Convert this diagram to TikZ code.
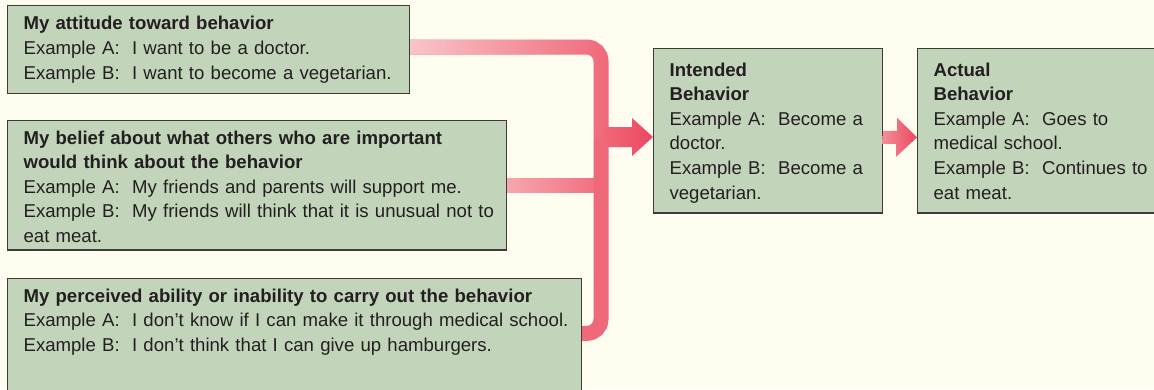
\documentclass[tikz,border=0pt]{standalone}
\usepackage{fontspec}
\setmainfont{Liberation Sans}
\usetikzlibrary{fadings}
\definecolor{paper}{HTML}{FFFDF0}
\definecolor{cardfill}{HTML}{C2D5BA}
\definecolor{cardline}{HTML}{3C3C38}
\definecolor{inktext}{HTML}{231F20}
\definecolor{bandlight}{HTML}{F9C8CD}
\definecolor{bandmid}{HTML}{F0697A}
\definecolor{bandred}{HTML}{EC4760}
\tikzfading[name=armfade,left color=transparent!0,right color=transparent!100]
\begin{document}
\begin{tikzpicture}[x=1pt,y=-1pt,font=\fontsize{18.6}{24.6}\selectfont,
  card/.style={draw=cardline,line width=1.2pt,fill=cardfill,anchor=north west,align=left,inner xsep=16pt,inner ysep=10pt,text=inktext,execute at begin node={\rightskip=0pt plus 1fil minus 60pt\hyphenpenalty=10000}},
  band/.style={line width=15pt,rounded corners=14pt}]
\useasboundingbox (0,0) rectangle (1154,389);
\clip (0,0) rectangle (1154,389);
\fill[paper] (0,0) rectangle (1154,389);
% the three sources
\node[card,text width=370pt,minimum height=88pt] (att) at (7,5) {\textbf{My attitude toward behavior}\\Example A:\ \ I want to be a doctor.\\Example B:\ \ I want to become a vegetarian.};
\node[card,text width=467pt,text depth=96pt] (bel) at (7,120) {\textbf{My belief about what others who are important}\\\textbf{would think about the behavior}\\Example A:\ \ My friends and parents will support me.\\Example B:\ \ My friends will think that it is unusual not to\\eat meat.};
\node[card,text width=542pt,text depth=110pt] (abl) at (7,278) {\textbf{My perceived ability or inability to carry out the behavior}\\Example A:\ \ I don’t know if I can make it through medical school.\\Example B:\ \ I don’t think that I can give up hamburgers.};
% outcome boxes
\node[card,text width=197pt,inner ysep=14pt,text depth=123pt] (int) at (653,48) {\textbf{Intended}\\\textbf{Behavior}\\Example A:\ \ Become a\\doctor.\\Example B:\ \ Become a\\vegetarian.};
\node[card,text width=228pt,inner ysep=14pt,text depth=123pt] (act) at (917,48) {\textbf{Actual}\\\textbf{Behavior}\\Example A:\ \ Goes to\\medical school.\\Example B:\ \ Continues to\\eat meat.};
\coordinate (hub) at (601,137);
\coordinate (tail2) at ([yshift=-6.5pt]int.east);
% bands into the hub
\draw[band,bandmid] ([yshift=2.5pt]att.east) -| (hub);
\draw[band,bandlight,path fading=armfade] ([yshift=2.5pt]att.east) -| (hub);
\draw[band,bandmid] (bel.east) -- (bel.east -| hub);
\draw[band,bandlight,path fading=armfade,opacity=.7] (bel.east) -- (bel.east -| hub);
\draw[band,bandmid] ([yshift=17pt]abl.east) -| (hub);
% block arrows
\shade[left color=bandmid,right color=bandred] ([yshift=10pt]hub) -- ++(31,0) -- ++(0,-9) -- (int.west |- hub) -- ++(-21,19) -- ++(0,-9) -- ++(-31,0) -- cycle;
\shade[left color=bandlight!40!bandmid,right color=bandred] ([yshift=6.5pt]tail2) -- ++(14,0) -- ++(0,-13) -- (act.west |- tail2) -- ++(-21,19.5) -- ++(0,-13) -- ++(-14,0) -- cycle;
\end{tikzpicture}
\end{document}
